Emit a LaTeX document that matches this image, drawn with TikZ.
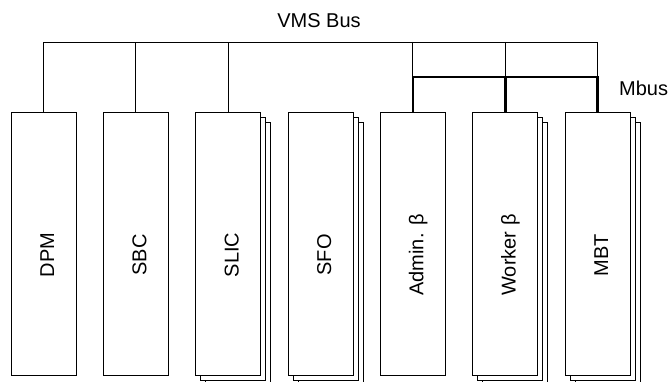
\documentclass[tikz,border=0pt]{standalone}
\usepackage{fontspec}
\setmainfont{Liberation Sans}
\usetikzlibrary{positioning}

\begin{document}
\begin{tikzpicture}[x=1pt, y=-1pt,
    unit/.style={draw, line width=0.8pt, fill=white, minimum width=65pt, minimum height=263pt, inner sep=0pt},
    unitname/.style={rotate=90, anchor=base, inner sep=0pt, font=\fontsize{20}{24}\selectfont},
    buslabel/.style={inner sep=0pt, font=\fontsize{20}{24}\selectfont},
    vmsline/.style={line width=0.9pt},
    mbusline/.style={line width=2.6pt}]
  \useasboundingbox (0,0) rectangle (672,382);

  %--- Back copies of the stacked units ---
  \node[unit] (slic-b2) at (238.2,253.5) {};
  \node[unit] (slic-b1) at (233.2,248.5) {};
  \node[unit] (sfo-b2) at (330.5,253.5) {};
  \node[unit] (sfo-b1) at (325.5,248.5) {};
  \node[unit] (worker-b2) at (515.2,253.5) {};
  \node[unit] (worker-b1) at (510.2,248.5) {};
  \node[unit] (mbt-b2) at (607.5,253.5) {};
  \node[unit] (mbt-b1) at (602.5,248.5) {};

  %--- Units ---
  \node[unit] (dpm) at (43.5,243.5) {};
  \node[unit] (sbc) at (135.8,243.5) {};
  \node[unit] (slic) at (228.2,243.5) {};
  \node[unit] (sfo) at (320.5,243.5) {};
  \node[unit] (admin) at (412.8,243.5) {};
  \node[unit] (worker) at (505.2,243.5) {};
  \node[unit] (mbt) at (597.5,243.5) {};

  % Unit names
  \node[unitname] (dpm-name) at (54,255) {DPM};
  \node[unitname] (sbc-name) at (146.3,255) {SBC};
  \node[unitname] (slic-name) at (238.7,255) {SLIC};
  \node[unitname] (sfo-name) at (331,255) {SFO};
  \node[unitname] (admin-name) at (423.3,255) {Admin. β};
  \node[unitname] (worker-name) at (515.7,255) {Worker β};
  \node[unitname] (mbt-name) at (608,255) {MBT};

  %--- Buses ---
  \node[buslabel, anchor=base] (vms-label) at (319,28) {VMS Bus};
  \node[buslabel, anchor=base west] (mbus-label) at (619,96) {Mbus};
  \coordinate (vmsbus) at (320,42);
  \coordinate (mbus) at (505,77);

  % VMS bus
  \draw[vmsline] (dpm.north) -- (dpm.north |- vmsbus) -- (mbt.north |- vmsbus) -- (mbt.north |- mbus);
  \draw[vmsline] (sbc.north) -- (sbc.north |- vmsbus);
  \draw[vmsline] (slic.north) -- (slic.north |- vmsbus);
  \draw[vmsline] (admin.north |- vmsbus) -- (admin.north |- mbus);
  \draw[vmsline] (worker.north |- vmsbus) -- (worker.north |- mbus);

  % Mbus
  \draw[mbusline] (admin.north) -- (admin.north |- mbus) -- (mbt.north |- mbus) -- (mbt.north);
  \draw[mbusline] (worker.north |- mbus) -- (worker.north);
\end{tikzpicture}
\end{document}
